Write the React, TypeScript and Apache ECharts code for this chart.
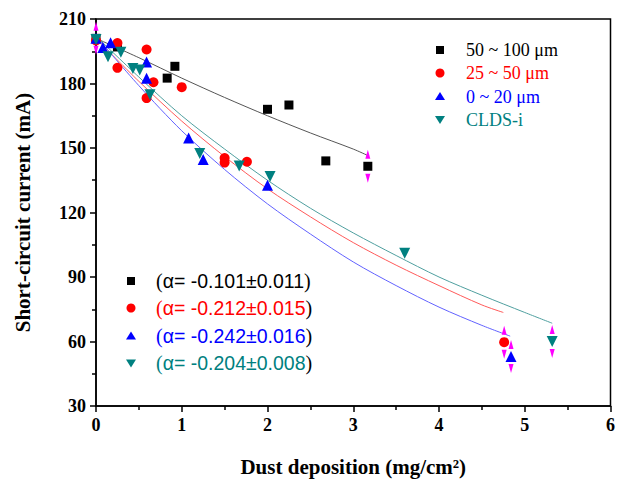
import React, { useEffect, useRef } from "react";
import * as echarts from "echarts";

// ---- data ----
const seriesNames = ["50 ~ 100 μm", "25 ~ 50 μm", "0 ~ 20 μm", "CLDS-i"];
const alphaLabels = ["α= -0.101±0.011", "α= -0.212±0.015", "α= -0.242±0.016", "α= -0.204±0.008"];

const blackX = [0, 0.25, 0.83, 0.92, 2.0, 2.25, 2.68, 3.17];
const blackY = [201, 197, 182.5, 188, 168, 170, 144, 141.5];

const redX = [0, 0.25, 0.25, 0.59, 0.59, 0.67, 1.0, 1.5, 1.5, 1.76, 4.76];
const redY = [200, 198.8, 187.3, 195.8, 173.2, 180.6, 178.3, 145.3, 143.2, 143.6, 59.7];

const blueX = [0, 0.08, 0.17, 0.59, 0.59, 1.08, 1.25, 2.0, 4.84];
const blueY = [201, 196.8, 199, 190, 182.5, 154.6, 144.6, 132.7, 53];

const tealX = [0, 0.14, 0.29, 0.43, 0.51, 0.63, 1.21, 1.67, 2.03, 3.6, 5.32];
const tealY = [200.5, 192.5, 194.5, 187, 186.3, 174.8, 147.4, 141.6, 136.8, 101, 60];

// fitted curves
const fitBlackX = [0, 0.5, 1, 1.5, 2, 2.5, 3, 3.17];
const fitBlackY = [201, 192, 182.5, 173.5, 165, 157, 149.5, 146.5];
const fitRedX = [0, 0.5, 1, 1.5, 2, 2.5, 3, 3.5, 4, 4.5, 4.75];
const fitRedY = [201, 181, 162.5, 146, 131, 118, 106, 95.5, 86, 77, 73.5];
const fitBlueX = [0, 0.5, 1, 1.5, 2, 2.5, 3, 3.5, 4, 4.5, 4.83];
const fitBlueY = [202, 179, 158, 140, 124, 110, 97, 86, 76, 67.5, 62.5];
const fitTealX = [0, 0.5, 1, 1.5, 2, 2.5, 3, 3.5, 4, 4.5, 5, 5.32];
const fitTealY = [202, 183, 165, 149.5, 135, 122, 110.5, 100, 90, 81.5, 73.5, 68.5];

// points carrying the magenta arrow error markers
const arrowX = [0, 3.17, 4.76, 4.84, 5.32];
const arrowY = [201, 141.5, 59.7, 53, 60];

const colors = ["#000000", "#ff0000", "#0000ff", "#008080"];
const lineColors = ["#555555", "#ff5a5a", "#6262ff", "#4f9f9f"];

const zip = (xs: number[], ys: number[]) => xs.map((x, i) => [x, ys[i]]);

const SERIF = "'Liberation Serif', 'Times New Roman', serif";
const SANS = "'Liberation Sans', Arial, sans-serif";

function legendSymbol(i: number, cx: number, cy: number, s: number) {
  let el: any;
  const h = s / 2;
  if (i === 0) el = { type: "rect", shape: { x: cx - h + 0.5, y: cy - h + 0.5, width: s - 1, height: s - 1 } };
  else if (i === 1) el = { type: "circle", shape: { cx, cy, r: h } };
  else if (i === 2)
    el = { type: "polygon", shape: { points: [[cx, cy - h], [cx - h - 0.5, cy + h - 1], [cx + h + 0.5, cy + h - 1]] } };
  else
    el = { type: "polygon", shape: { points: [[cx - h - 0.5, cy - h + 1], [cx + h + 0.5, cy - h + 1], [cx, cy + h]] } };
  el.style = { fill: colors[i] };
  el.silent = true;
  return el;
}

export default function App() {
  const ref = useRef<HTMLDivElement>(null);
  useEffect(() => {
    document.body.style.margin = "0";
    const chart = echarts.init(ref.current!, null, { renderer: "svg" });

    const pointSets = [zip(blackX, blackY), zip(redX, redY), zip(blueX, blueY), zip(tealX, tealY)];
    const fitSets = [
      zip(fitBlackX, fitBlackY),
      zip(fitRedX, fitRedY),
      zip(fitBlueX, fitBlueY),
      zip(fitTealX, fitTealY),
    ];
    const symbols = ["rect", "circle", "triangle", "triangle"];
    const rotates = [0, 0, 0, 180];
    const sizes = [9, 10, 11, 11];

    const scatterSeries = pointSets.map((d, i) => ({
      name: seriesNames[i],
      type: "scatter",
      data: d,
      symbol: symbols[i],
      symbolRotate: rotates[i],
      symbolSize: sizes[i],
      itemStyle: { color: colors[i], opacity: 1 },
      z: 3,
      silent: true,
    }));

    const fitSeries = fitSets.map((d, i) => ({
      name: "fit" + i,
      type: "line",
      data: d,
      smooth: 0.3,
      showSymbol: false,
      lineStyle: { color: lineColors[i], width: 1 },
      z: 2,
      silent: true,
    }));

    const arrowData = zip(arrowX, arrowY);
    const arrowSeries = [
      {
        name: "errUp",
        type: "scatter",
        data: arrowData,
        symbol: "triangle",
        symbolSize: [5, 9],
        symbolOffset: [0, -12],
        itemStyle: { color: "#ff00ff", opacity: 1 },
        z: 4,
        silent: true,
      },
      {
        name: "errDown",
        type: "scatter",
        data: arrowData,
        symbol: "triangle",
        symbolRotate: 180,
        symbolSize: [5, 9],
        symbolOffset: [0, 12],
        itemStyle: { color: "#ff00ff", opacity: 1 },
        z: 4,
        silent: true,
      },
    ];

    const graphics: any[] = [];
    // first legend (series names), top right
    const row1 = [50, 73, 96.5, 119.5];
    seriesNames.forEach((n, i) => {
      graphics.push(legendSymbol(i, 440, row1[i], 9));
      graphics.push({
        type: "text",
        x: 466,
        y: row1[i],
        silent: true,
        style: {
          text: n,
          fontFamily: SERIF,
          fontSize: 18,
          fill: colors[i],
          verticalAlign: "middle",
        },
      });
    });

    // second legend (alpha values), lower left
    const row2 = [281, 308, 336, 363];
    alphaLabels.forEach((lab, i) => {
      const y = row2[i];
      graphics.push(legendSymbol(i, 131, y, 9));
      graphics.push({
        type: "text",
        x: 156,
        y,
        silent: true,
        style: {
          text: `{o|(}{t|${lab}}{c|)}`,
          verticalAlign: "middle",
          rich: {
            o: { fontFamily: SERIF, fontSize: 20, fill: colors[i] },
            t: { fontFamily: SANS, fontSize: 19.5, fill: colors[i] },
            c: { fontFamily: SERIF, fontSize: 20, fill: "#000" },
          },
        },
      });
    });

    chart.setOption({
      animation: false,
      backgroundColor: "#ffffff",
      grid: {
        left: 96,
        top: 19,
        width: 517,
        height: 387,
        show: true,
        borderColor: "#000",
        borderWidth: 1.5,
        backgroundColor: "transparent",
      },
      xAxis: {
        type: "value",
        min: 0,
        max: 6,
        interval: 1,
        name: "Dust deposition (mg/cm²)",
        nameLocation: "middle",
        nameGap: 50,
        nameTextStyle: { fontFamily: SERIF, fontWeight: "bold", fontSize: 21, color: "#000" },
        axisLine: { show: true, onZero: false, lineStyle: { color: "#000", width: 1.5 } },
        axisTick: { show: true, length: 6, lineStyle: { color: "#000", width: 1.5 } },
        minorTick: { show: true, splitNumber: 2, length: 4, lineStyle: { color: "#000", width: 1.5 } },
        splitLine: { show: false },
        axisLabel: { fontFamily: SERIF, fontWeight: "bold", fontSize: 18, color: "#000", margin: 10 },
      },
      yAxis: {
        type: "value",
        min: 30,
        max: 210,
        interval: 30,
        name: "Short-circuit current (mA)",
        nameLocation: "middle",
        nameGap: 63,
        nameTextStyle: { fontFamily: SERIF, fontWeight: "bold", fontSize: 21, color: "#000" },
        axisLine: { show: true, onZero: false, lineStyle: { color: "#000", width: 1.5 } },
        axisTick: { show: true, length: 6, lineStyle: { color: "#000", width: 1.5 } },
        minorTick: { show: true, splitNumber: 2, length: 4, lineStyle: { color: "#000", width: 1.5 } },
        splitLine: { show: false },
        axisLabel: { fontFamily: SERIF, fontWeight: "bold", fontSize: 18, color: "#000", margin: 10 },
      },
      graphic: graphics,
      series: [...fitSeries, ...scatterSeries, ...arrowSeries],
    });

    return () => chart.dispose();
  }, []);

  return (
    <div
      ref={ref}
      style={{ position: "fixed", left: 0, top: 0, width: 618, height: 482 }}
    />
  );
}
